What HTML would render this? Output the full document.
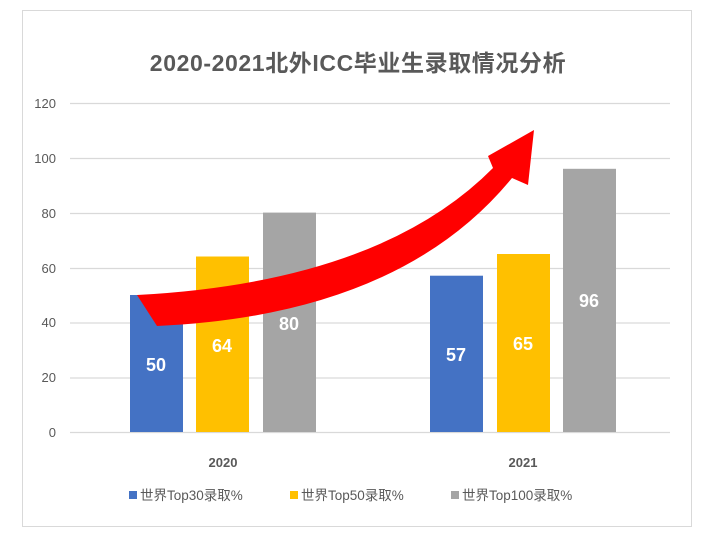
<!DOCTYPE html><html><head><meta charset="utf-8"><style>
body{margin:0;background:#fff;}
svg text{font-family:"Liberation Sans","Noto Sans CJK SC",sans-serif;}
</style></head><body>
<svg width="714" height="537" xmlns="http://www.w3.org/2000/svg">
<rect x="0" y="0" width="714" height="537" fill="#fff"/>
<rect x="22.5" y="10.5" width="669" height="516" fill="#fff" stroke="#d9d9d9"/>
<text x="358" y="71" text-anchor="middle" font-size="23" font-weight="bold" fill="#595959" letter-spacing="0.6">2020-2021北外ICC毕业生录取情况分析</text>
<g stroke="#d9d9d9" stroke-width="1.2">
<line x1="70" x2="670" y1="103.5" y2="103.5"/><line x1="70" x2="670" y1="158.5" y2="158.5"/>
<line x1="70" x2="670" y1="213.5" y2="213.5"/><line x1="70" x2="670" y1="268.5" y2="268.5"/>
<line x1="70" x2="670" y1="323" y2="323"/><line x1="70" x2="670" y1="378" y2="378"/>
<line x1="70" x2="670" y1="432.5" y2="432.5"/></g>
<g font-size="13" fill="#595959" text-anchor="end">
<text x="56" y="108">120</text><text x="56" y="163">100</text><text x="56" y="218">80</text>
<text x="56" y="273">60</text><text x="56" y="327">40</text><text x="56" y="382">20</text><text x="56" y="437">0</text></g>
<rect x="130" y="295" width="53" height="137" fill="#4472c4"/>
<rect x="196" y="256.5" width="53" height="175.5" fill="#ffc000"/>
<rect x="263" y="212.6" width="53" height="219.4" fill="#a5a5a5"/>
<rect x="430" y="275.7" width="53" height="156.3" fill="#4472c4"/>
<rect x="497" y="254" width="53" height="178" fill="#ffc000"/>
<rect x="563" y="168.8" width="53" height="263.2" fill="#a5a5a5"/>
<g font-size="18" font-weight="bold" fill="#fff" text-anchor="middle">
<text x="156" y="371">50</text><text x="222" y="352">64</text><text x="289" y="330">80</text>
<text x="456" y="361">57</text><text x="523" y="350">65</text><text x="589" y="307">96</text></g>
<path d="M137,295 Q380,282 493,168 L488,156 L534,130 L528,185 L512,178 Q400,315 157,326 Z" fill="#ff0000"/>
<g font-size="13" font-weight="bold" fill="#595959" text-anchor="middle">
<text x="223" y="467">2020</text><text x="523" y="467">2021</text></g>
<g font-size="13.5" fill="#595959">
<rect x="129" y="491" width="8" height="8" fill="#4472c4"/><text x="140" y="500">世界Top30录取%</text>
<rect x="290" y="491" width="8" height="8" fill="#ffc000"/><text x="301" y="500">世界Top50录取%</text>
<rect x="451" y="491" width="8" height="8" fill="#a5a5a5"/><text x="462" y="500">世界Top100录取%</text>
</g>
</svg></body></html>
